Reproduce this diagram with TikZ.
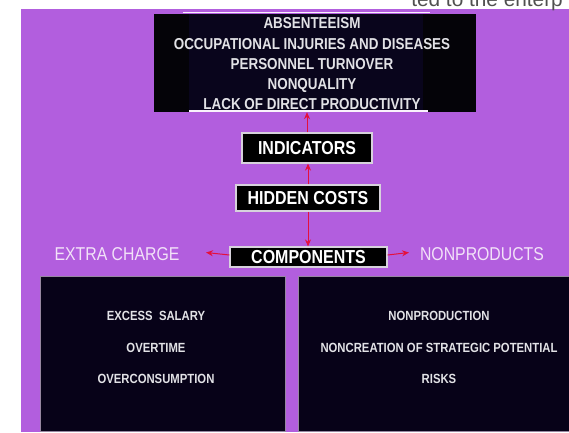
\documentclass[tikz,border=0pt]{standalone}
\usepackage{fontspec}
\setmainfont{Liberation Sans}[FakeStretch=0.85]
\newfontfamily\overlayfont{Liberation Sans}
\usetikzlibrary{arrows.meta}

\definecolor{slidebg}{RGB}{178,94,222}
\definecolor{topfill}{RGB}{4,3,8}
\definecolor{topinner}{RGB}{9,5,28}
\definecolor{lowfill}{RGB}{7,2,24}
\definecolor{boxedge}{RGB}{215,210,220}
\definecolor{lowedge}{RGB}{150,135,160}
\definecolor{arrowred}{RGB}{228,16,60}
\definecolor{sidetext}{RGB}{242,226,248}
\definecolor{listtext}{RGB}{226,226,230}
\definecolor{captiongray}{RGB}{80,80,80}

\begin{document}
\begin{tikzpicture}[x=1pt,y=-1pt,
  topbox/.style={fill=topfill, inner sep=0pt},
  hline/.style={draw=white!92!slidebg, line width=1.4pt},
  topline/.style={anchor=base, inner sep=0pt, text=listtext,
    font=\fontsize{15.8}{18}\selectfont\bfseries},
  midbox/.style={draw=boxedge, line width=1.2pt, fill=black, text=white,
    inner sep=0pt, font=\fontsize{18.8}{20}\selectfont\bfseries},
  sidelabel/.style={anchor=base, inner sep=0pt, text=sidetext,
    font=\fontsize{18.6}{20}\selectfont},
  lowbox/.style={draw=lowedge, line width=0.8pt, fill=lowfill, inner sep=0pt},
  lowline/.style={anchor=base, inner sep=0pt, text=listtext,
    font=\fontsize{13.3}{15}\selectfont\bfseries},
  arr/.style={draw=arrowred, line width=1pt, -{Stealth[length=7pt,width=6pt]}}
]
\useasboundingbox (0,0) rectangle (569,432);
\clip (0,0) rectangle (569,432);
\fill[white] (0,0) rectangle (569,432);
\fill[slidebg] (21,9) rectangle (569,432);

% caption strip along the top edge
\node[anchor=base east, inner sep=0pt, text=captiongray,
  font=\overlayfont\fontsize{20.8}{22}\selectfont] (caption) at (563,6) {ted to the enterp};

% indicator list
\node[topbox, minimum width=322pt, minimum height=98pt] (top) at (315,63) {};
\fill[topinner] (189,14) rectangle (423,112);
\draw[hline] (183,12.5) -- (430,12.5);
\draw[hline] (189,111) -- (428,111);
\node[topline] (l1) at (312,28.5) {ABSENTEEISM};
\node[topline] (l2) at (312,49) {OCCUPATIONAL INJURIES AND DISEASES};
\node[topline] (l3) at (312,69) {PERSONNEL TURNOVER};
\node[topline] (l4) at (312,89) {NONQUALITY};
\node[topline] (l5) at (312,109) {LACK OF DIRECT PRODUCTIVITY};

% central chain
\node[midbox, minimum width=130pt, minimum height=30pt] (ind) at (307,148) {INDICATORS};
\node[midbox, minimum width=144pt, minimum height=26pt] (hid) at (308,198) {HIDDEN COSTS};
\node[midbox, minimum width=157pt, minimum height=20pt] (comp) at (308.5,257) {COMPONENTS};

\draw[arr] (ind.north) -- (ind.north |- top.south);
\draw[arr] (hid.north) -- (hid.north |- ind.south);
\draw[arr] (hid.south) -- (hid.south |- comp.north);

% the two component families
\node[sidelabel] (extra) at (117,260.75) {EXTRA CHARGE};
\node[sidelabel] (nonprod) at (482,260.75) {NONPRODUCTS};
\coordinate (ltip) at (206,252.5);
\coordinate (rtip) at (409,252.5);
\draw[arr] ([yshift=2pt]comp.west) -- (ltip);
\draw[arr] ([yshift=2pt]comp.east) -- (rtip);

% detail panels
\node[lowbox, minimum width=245pt, minimum height=155pt] (left) at (162.5,353.5) {};
\node[lowbox, minimum width=276pt, minimum height=155pt] (right) at (436,353.5) {};
\node[lowline] (a1) at (156,320.75) {EXCESS\ \ SALARY};
\node[lowline] (a2) at (156,352.75) {OVERTIME};
\node[lowline] (a3) at (156,383.75) {OVERCONSUMPTION};
\node[lowline] (b1) at (439,320.75) {NONPRODUCTION};
\node[lowline] (b2) at (439,352.75) {NONCREATION OF STRATEGIC POTENTIAL};
\node[lowline] (b3) at (439,383.75) {RISKS};
\end{tikzpicture}
\end{document}
